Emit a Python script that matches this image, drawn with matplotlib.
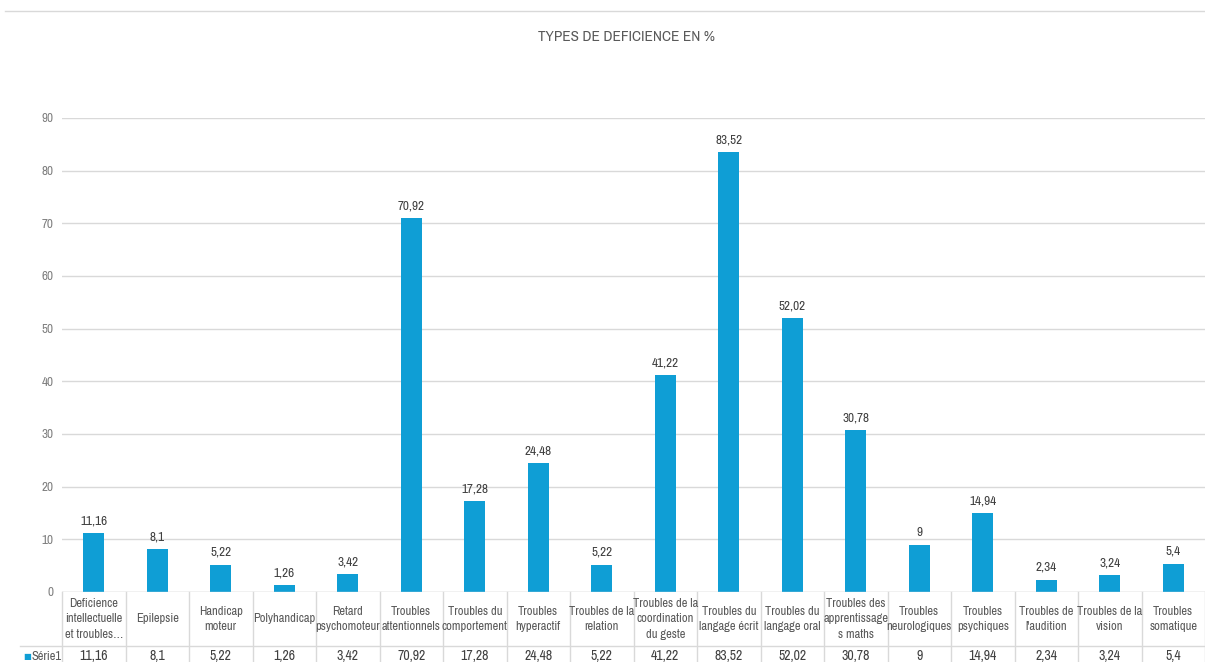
import matplotlib.pyplot as plt
from matplotlib.transforms import blended_transform_factory

# --- data ---
categories = [
    "Deficience\nintellectuelle\net troubles…", "Epilepsie", "Handicap\nmoteur",
    "Polyhandicap", "Retard\npsychomoteur", "Troubles\nattentionnels",
    "Troubles du\ncomportement", "Troubles\nhyperactif", "Troubles de la\nrelation",
    "Troubles de la\ncoordination\ndu geste", "Troubles du\nlangage écrit",
    "Troubles du\nlangage oral", "Troubles des\napprentissage\ns maths",
    "Troubles\nneurologiques", "Troubles\npsychiques", "Troubles de\nl'audition",
    "Troubles de la\nvision", "Troubles\nsomatique",
]
values = [11.16, 8.1, 5.22, 1.26, 3.42, 70.92, 17.28, 24.48, 5.22,
          41.22, 83.52, 52.02, 30.78, 9, 14.94, 2.34, 3.24, 5.4]
series_name = "Série1"
title = "TYPES DE DEFICIENCE EN %"

BLUE = "#0F9ED5"
GRID = "#D9D9D9"
TXT = "#595959"

plt.rcParams['font.family'] = ['Archivo Narrow', 'Liberation Sans', 'DejaVu Sans']


def fr(v):
    return f"{v:g}".replace('.', ',')


W, H = 1205, 662
fig = plt.figure(figsize=(W / 100, H / 100), dpi=100)
ax = fig.add_axes([62 / W, (H - 592) / H, 1 - 62 / W, (592 - 118) / H])

x = list(range(len(values)))
ax.bar(x, values, width=0.33, color=BLUE, zorder=3)
for xi, v in zip(x, values):
    ax.text(xi, v + 1.3, fr(v), ha='center', va='bottom', fontsize=9.5, color="#404040")

ax.set_xlim(-0.5, len(values) - 0.5)
ax.set_ylim(0, 90)
ax.set_yticks(range(0, 91, 10))
ax.tick_params(axis='y', length=0, labelsize=9.5, labelcolor="#7F7F7F", pad=6)
ax.set_xticks([])
ax.grid(axis='y', color=GRID, linewidth=1, zorder=0)
for s in ax.spines.values():
    s.set_visible(False)
ax.axhline(0, color=GRID, linewidth=1, zorder=4)

# --- data table under the chart ---
tr = blended_transform_factory(ax.transData, fig.transFigure)
y_top = (H - 592) / H
y_sep = (H - 646) / H
for i in range(len(values) + 1):
    ax.plot([i - 0.5, i - 0.5], [0, y_top], transform=tr, color=GRID,
            linewidth=1, clip_on=False)
fig.add_artist(plt.Line2D([20 / W, 1], [y_sep, y_sep], color=GRID, linewidth=1))
for xi, cat, v in zip(x, categories, values):
    ax.text(xi, (H - 619) / H, cat, transform=tr, ha='center', va='center',
            fontsize=9, color=TXT, linespacing=1.45, clip_on=False)
    ax.text(xi, (H - 656) / H, fr(v), transform=tr, ha='center', va='center',
            fontsize=10, color="#404040", clip_on=False)
fig.text(23 / W, (H - 656) / H, "■", color=BLUE, fontsize=6, ha='left', va='center',
         family=['DejaVu Sans'])
fig.text(31 / W, (H - 656) / H, series_name, color=TXT, fontsize=9, ha='left', va='center')

# frame line on top and title
fig.add_artist(plt.Line2D([5 / W, 1], [(H - 11) / H] * 2, color=GRID, linewidth=1))
fig.text(626 / W, (H - 37) / H, title, ha='center', va='center', fontsize=11, color=TXT)

fig.savefig("out.png", dpi=100)
